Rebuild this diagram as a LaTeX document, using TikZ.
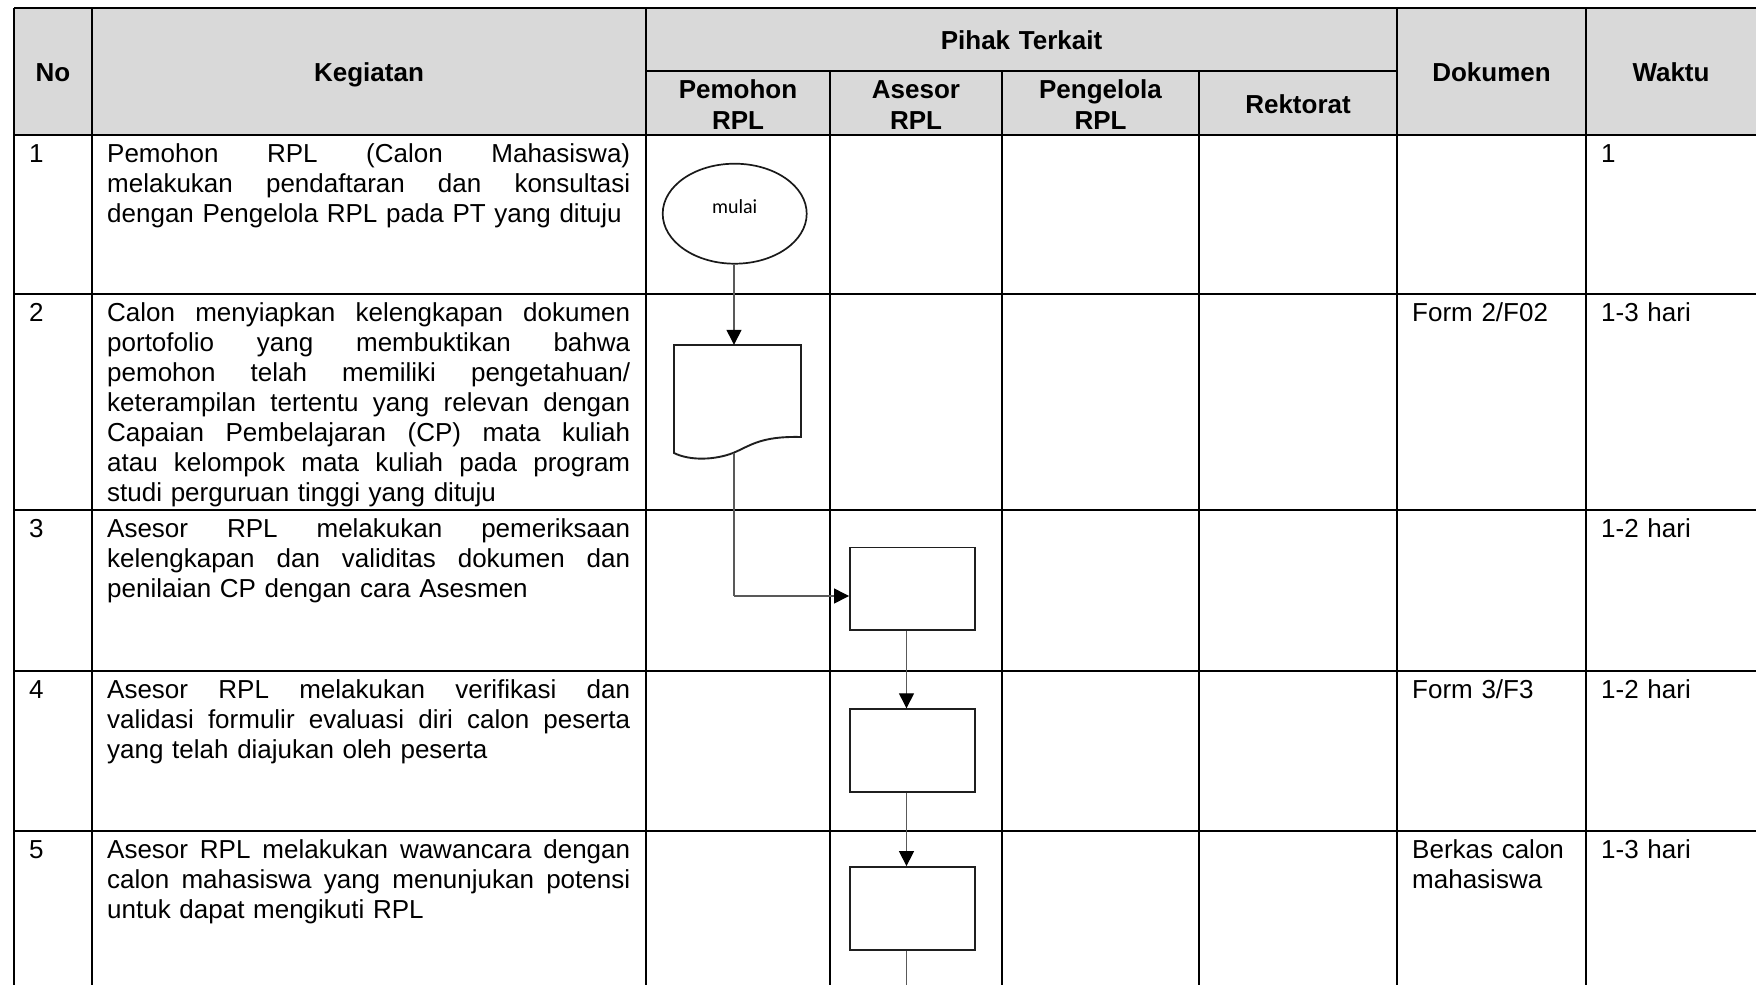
\documentclass[tikz,border=0pt]{standalone}
\usepackage{fontspec}
\setmainfont{Liberation Sans}
\newfontfamily\calfont{Carlito}
\usetikzlibrary{arrows.meta,shapes.geometric}
\newcommand\jl[1]{\makebox[523pt][s]{\spaceskip=.3333em plus 100em\relax #1}\\}
\begin{document}
\begin{tikzpicture}[x=1pt,y=-1pt,
  hline/.style={line width=1.6pt,black},
  vline/.style={line width=1.9pt,black},
  subline/.style={line width=1.1pt,black},
  hdr/.style={font=\fontsize{26}{31}\selectfont\bfseries,inner sep=0pt,anchor=base,align=center,text width=175pt},
  body/.style={font=\fontsize{26}{30}\selectfont,inner sep=0pt,anchor=base west,align=left,text width=160pt},
  kg/.style={body,text width=523pt},
  proc/.style={draw=black!88,line width=1.9pt,minimum width=125pt,minimum height=82.5pt,inner sep=0pt},
  conn/.style={draw=black!65,line width=1.3pt},
  arr/.style={conn,-{Triangle[length=15pt,width=15pt,color=black]}},
]
\useasboundingbox (0,0) rectangle (1756,985);
% header background
\fill[fill={rgb,255:red,217;green,217;blue,217}] (14,8) rectangle (1760,135);
% horizontal lines
\draw[line width=2pt] (14,8) -- (1760,8);
\draw[subline] (646,71) -- (1397,71);
\draw[line width=2pt] (14,135) -- (1760,135);
\foreach \yy in {294,510,671,831} \draw[hline] (14,\yy) -- (1760,\yy);
% vertical lines
\foreach \xx in {14,92,646,1397,1586} \draw[vline] (\xx,8) -- (\xx,990);
\foreach \xx in {830,1002,1199} \draw[subline] (\xx,71) -- (\xx,135);
\foreach \xx in {830,1002,1199} \draw[vline] (\xx,135) -- (\xx,990);

% header texts
\node[hdr] (hno) at (53,81) {No};
\node[hdr,text width=500pt] (hkeg) at (369,81) {Kegiatan};
\node[hdr,text width=400pt] (hpihak) at (1021.5,49) {Pihak Terkait};
\node[hdr] (hpem) at (738,98) {Pemohon\\RPL};
\node[hdr] (hase) at (916,98) {Asesor\\RPL};
\node[hdr] (hpeng) at (1100.5,98) {Pengelola\\RPL};
\node[hdr] (hrek) at (1298,113) {Rektorat};
\node[hdr] (hdok) at (1491.5,81) {Dokumen};
\node[hdr] (hwak) at (1671,81) {Waktu};

% row numbers
\node[body] (n1) at (29,162) {1};
\node[body] (n2) at (29,321) {2};
\node[body] (n3) at (29,537) {3};
\node[body] (n4) at (29,698) {4};
\node[body] (n5) at (29,858) {5};

% kegiatan
\node[kg] (k1) at (107,162) {\jl{Pemohon RPL (Calon Mahasiswa)}\jl{melakukan pendaftaran dan konsultasi}dengan Pengelola RPL pada PT yang dituju};
\node[kg] (k2) at (107,321) {\jl{Calon menyiapkan kelengkapan dokumen}\jl{portofolio yang membuktikan bahwa}\jl{pemohon telah memiliki pengetahuan/}\jl{keterampilan tertentu yang relevan dengan}\jl{Capaian Pembelajaran (CP) mata kuliah}\jl{atau kelompok mata kuliah pada program}studi perguruan tinggi yang dituju};
\node[kg] (k3) at (107,537) {\jl{Asesor RPL melakukan pemeriksaan}\jl{kelengkapan dan validitas dokumen dan}penilaian CP dengan cara Asesmen};
\node[kg] (k4) at (107,698) {\jl{Asesor RPL melakukan verifikasi dan}\jl{validasi formulir evaluasi diri calon peserta}yang telah diajukan oleh peserta};
\node[kg] (k5) at (107,858) {\jl{Asesor RPL melakukan wawancara dengan}\jl{calon mahasiswa yang menunjukan potensi}untuk dapat mengikuti RPL};

% dokumen
\node[body] (d2) at (1412,321) {Form 2/F02};
\node[body] (d4) at (1412,698) {Form 3/F3};
\node[body] (d5) at (1412,858) {Berkas calon\\mahasiswa};

% waktu
\node[body] (w1) at (1601,162) {1};
\node[body] (w2) at (1601,321) {1-3 hari};
\node[body] (w3) at (1601,537) {1-2 hari};
\node[body] (w4) at (1601,698) {1-2 hari};
\node[body] (w5) at (1601,858) {1-3 hari};

% flowchart
\node[ellipse,draw=black!90,line width=1.7pt,minimum width=144pt,minimum height=100pt,inner sep=0pt,font=\calfont\fontsize{20}{22}\selectfont] (ell) at (734.7,213.7) {\raisebox{14pt}{mulai}};
\node[inner sep=0pt,minimum width=127pt,minimum height=108pt] (doc) at (737.7,399) {};
\draw[draw=black!88,line width=1.9pt,line join=miter] (674,345) -- (801,345) -- (801,437)
  .. controls (760,436) and (750,446) .. (733,453)
  .. controls (715,460) and (690,461) .. (674,453) -- cycle;
\node[proc] (b3) at (912.5,588.7) {};
\node[proc] (b4) at (912.5,750.5) {};
\node[proc] (b5) at (912.5,908.3) {};
\coordinate (j) at (734,596);
\coordinate (endpt) at (906.5,990);

\draw[arr] (ell.south -| j) -- (doc.north -| j);
\draw[conn] (doc.south -| j) -- (j);
\draw[arr] (j) -- (j -| b3.west);
\draw[arr] ([xshift=-6pt]b3.south) -- ([xshift=-6pt]b4.north);
\draw[arr] ([xshift=-6pt]b4.south) -- ([xshift=-6pt]b5.north);
\draw[conn] ([xshift=-6pt]b5.south) -- (endpt);
\end{tikzpicture}
\end{document}
